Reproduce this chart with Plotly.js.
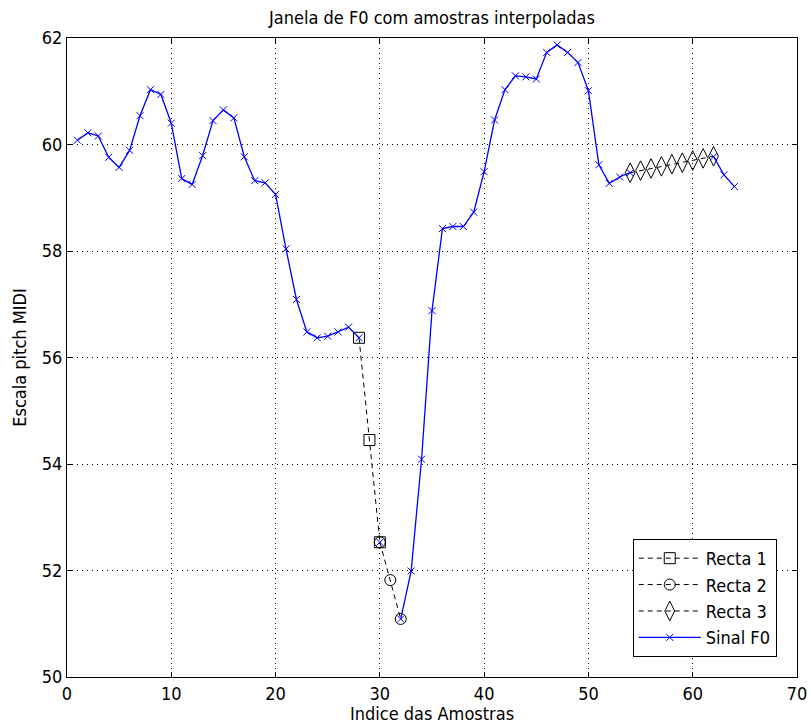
<!DOCTYPE html>
<html>
<head>
<meta charset="utf-8">
<script src="https://cdn.plot.ly/plotly-3.0.1.min.js"></script>
<style>
html, body { margin: 0; padding: 0; background: #fff; }
#chart { width: 811px; height: 724px; }
</style>
</head>
<body>
<div id="chart"></div>
<script>
// Sample indices and F0 signal (MIDI pitch); null = missing (interpolated) samples
var sampleIdx = [1,2,3,4,5,6,7,8,9,10,11,12,13,14,15,16,17,18,19,20,21,22,23,24,25,26,27,28,29,30,31,32,33,34,35,36,37,38,39,40,41,42,43,44,45,46,47,48,49,50,51,52,53,54,55,56,57,58,59,60,61,62,63,64];
var f0Values = [60.08,60.22,60.16,59.76,59.57,59.89,60.54,61.03,60.94,60.40,
                59.36,59.25,59.79,60.45,60.65,60.50,59.77,59.32,59.28,59.06,
                58.04,57.09,56.48,56.37,56.40,56.48,56.57,56.37,null,52.53,
                null,51.09,51.99,54.09,56.88,58.42,58.46,58.46,58.73,59.49,
                60.46,61.03,61.29,61.27,61.23,61.73,61.87,61.73,61.54,61.01,
                59.62,59.27,59.39,59.47,null,null,null,null,null,null,
                null,59.77,59.43,59.21];

// Interpolation lines
var recta1X = [28, 29, 30];
var recta1Y = [56.37, 54.45, 52.53];
var recta2X = [30, 31, 32];
var recta2Y = [52.53, 51.82, 51.09];
var recta3X = [54, 55, 56, 57, 58, 59, 60, 61, 62];
var recta3Y = [59.47, 59.51, 59.55, 59.59, 59.63, 59.66, 59.70, 59.74, 59.78];

var seriesNames = ['Recta 1', 'Recta 2', 'Recta 3', 'Sinal F0'];

var FONT = '"Liberation Sans Narrow", "Arial Narrow", "DejaVu Sans Condensed", "Liberation Sans", sans-serif';

function recta(x, y, name, symbol, size) {
  return {
    x: x, y: y, name: name, type: 'scatter', mode: 'lines+markers',
    line: { color: '#000', width: 1, dash: '5px,4px' },
    marker: { symbol: symbol, size: size, color: '#000', line: { color: '#000', width: 1 } },
    hoverinfo: 'x+y'
  };
}

var traces = [
  recta(recta1X, recta1Y, seriesNames[0], 'square-open', 11),
  recta(recta2X, recta2Y, seriesNames[1], 'circle-open', 11),
  recta(recta3X, recta3Y, seriesNames[2], 'diamond-tall-open', 14),
  {
    x: sampleIdx, y: f0Values, name: seriesNames[3], type: 'scatter', mode: 'lines+markers',
    connectgaps: false,
    line: { color: '#0000ff', width: 1.3 },
    marker: { symbol: 'x-thin-open', size: 7, color: '#0000ff', line: { color: '#0000ff', width: 1 } }
  }
];

var axisCommon = {
  showline: true, linecolor: '#000', linewidth: 1, mirror: 'ticks',
  ticks: 'inside', ticklen: 5, tickwidth: 1, tickcolor: '#000',
  showgrid: true, gridcolor: '#000', gridwidth: 1, griddash: '1px,4px',
  zeroline: false, tickfont: { family: FONT, size: 18, color: '#000' }
};

var layout = {
  width: 811, height: 724,
  margin: { l: 67, r: 14, t: 38, b: 47 },
  paper_bgcolor: '#fff', plot_bgcolor: '#fff',
  font: { family: FONT, size: 18, color: '#000' },
  title: { text: 'Janela de F0 com amostras interpoladas', x: 0.5, xref: 'paper',
           y: 1 - 18 / 724, yref: 'container', yanchor: 'middle',
           font: { family: FONT, size: 18, color: '#000' } },
  xaxis: Object.assign({}, axisCommon, {
    range: [0, 70], tick0: 0, dtick: 10,
    title: { text: 'Indice das Amostras', standoff: 4, font: { family: FONT, size: 18, color: '#000' } }
  }),
  yaxis: Object.assign({}, axisCommon, {
    range: [50, 62], tick0: 50, dtick: 2,
    title: { text: 'Escala pitch MIDI', standoff: 10, font: { family: FONT, size: 18, color: '#000' } }
  }),
  showlegend: true,
  legend: {
    x: 0.775, y: 0.216, xanchor: 'left', yanchor: 'top',
    bgcolor: '#fff', bordercolor: '#000', borderwidth: 1,
    font: { family: FONT, size: 18, color: '#000' },
    itemwidth: 62,
    tracegroupgap: 0
  }
};

Plotly.newPlot('chart', traces, layout, { staticPlot: true, displayModeBar: false });
</script>
</body>
</html>
